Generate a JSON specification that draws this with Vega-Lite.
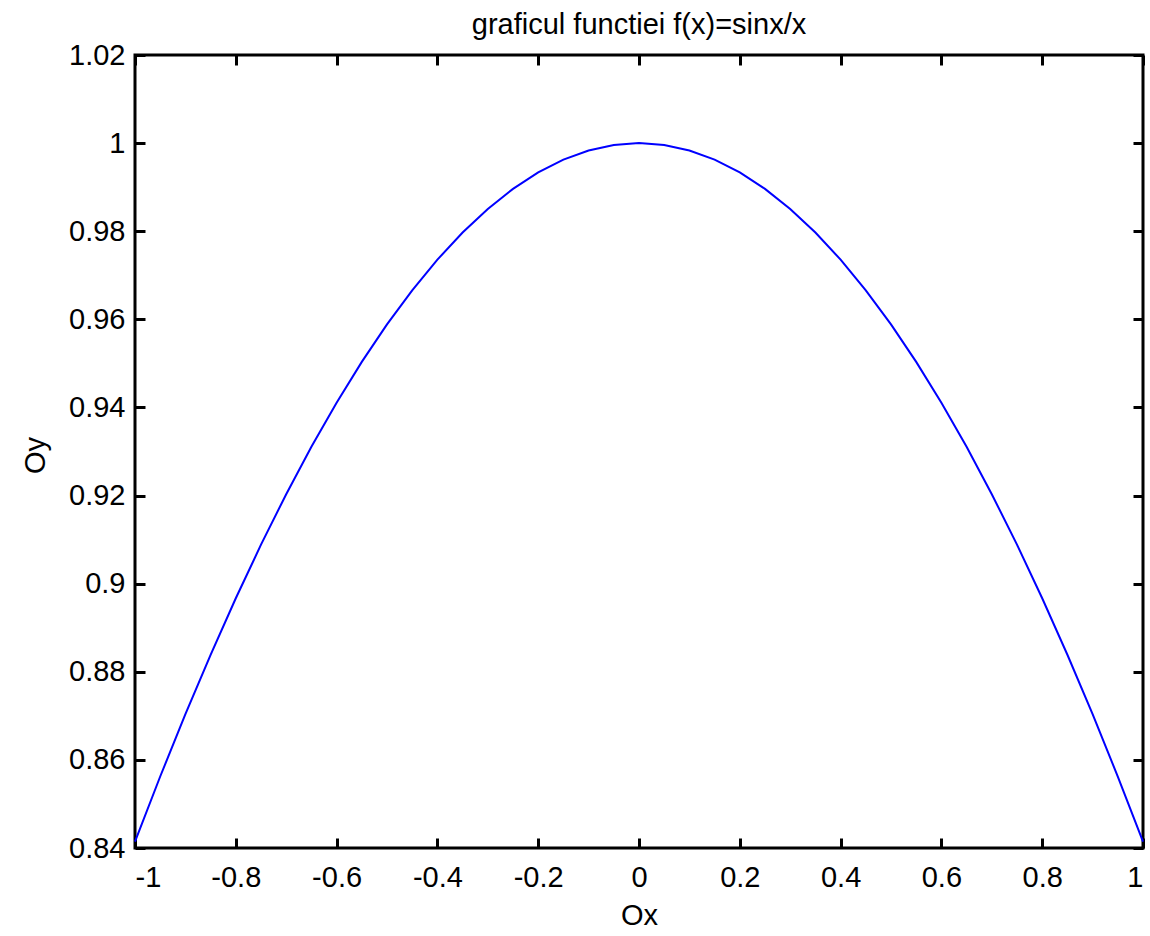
{
  "$schema": "https://vega.github.io/schema/vega-lite/v6.json",
  "autosize": "none",
  "width": 1008,
  "height": 793,
  "padding": {"left": 135, "top": 55, "right": 7, "bottom": 88},
  "background": "white",
  "config": {
    "font": "Liberation Sans",
    "view": {"stroke": "#000", "strokeWidth": 3},
    "axis": {"grid": false, "domain": false, "tickColor": "#000", "tickWidth": 3, "tickSize": -10, "labelColor": "#000", "labelFontSize": 29, "titleFontSize": 29, "titleFontWeight": "normal", "titleColor": "#000", "labelFont": "Liberation Sans", "titleFont": "Liberation Sans"}
  },
  "title": {"text": "graficul functiei f(x)=sinx/x", "fontSize": 29, "fontWeight": "normal", "color": "#000", "font": "Liberation Sans", "anchor": "middle", "offset": 1},
  "data": {"values": [
    {"x": -1.0, "y": 0.841471}, {"x": -0.95, "y": 0.856227}, {"x": -0.9, "y": 0.870363}, {"x": -0.85, "y": 0.883859},
    {"x": -0.8, "y": 0.896695}, {"x": -0.75, "y": 0.908852}, {"x": -0.7, "y": 0.920311}, {"x": -0.65, "y": 0.931056},
    {"x": -0.6, "y": 0.941071}, {"x": -0.55, "y": 0.950341}, {"x": -0.5, "y": 0.958851}, {"x": -0.45, "y": 0.96659},
    {"x": -0.4, "y": 0.973546}, {"x": -0.35, "y": 0.979708}, {"x": -0.3, "y": 0.985067}, {"x": -0.25, "y": 0.989616},
    {"x": -0.2, "y": 0.993347}, {"x": -0.15, "y": 0.996254}, {"x": -0.1, "y": 0.998334}, {"x": -0.05, "y": 0.999583},
    {"x": 0.0, "y": 1.0},
    {"x": 0.05, "y": 0.999583}, {"x": 0.1, "y": 0.998334}, {"x": 0.15, "y": 0.996254}, {"x": 0.2, "y": 0.993347},
    {"x": 0.25, "y": 0.989616}, {"x": 0.3, "y": 0.985067}, {"x": 0.35, "y": 0.979708}, {"x": 0.4, "y": 0.973546},
    {"x": 0.45, "y": 0.96659}, {"x": 0.5, "y": 0.958851}, {"x": 0.55, "y": 0.950341}, {"x": 0.6, "y": 0.941071},
    {"x": 0.65, "y": 0.931056}, {"x": 0.7, "y": 0.920311}, {"x": 0.75, "y": 0.908852}, {"x": 0.8, "y": 0.896695},
    {"x": 0.85, "y": 0.883859}, {"x": 0.9, "y": 0.870363}, {"x": 0.95, "y": 0.856227}, {"x": 1.0, "y": 0.841471}
  ]},
  "layer": [
    {
      "mark": {"type": "line", "color": "#0000ff", "strokeWidth": 2},
      "encoding": {
        "x": {"field": "x", "type": "quantitative", "scale": {"domain": [-1, 1], "nice": false, "zero": false},
          "axis": {"orient": "bottom", "values": [-1, -0.8, -0.6, -0.4, -0.2, 0, 0.2, 0.4, 0.6, 0.8, 1], "labelExpr": "replace(format(datum.value, '.1~f'), '\u2212', '-')", "labelPadding": 25, "title": "Ox", "titleX": 504, "titleY": 67, "titleBaseline": "middle"}},
        "y": {"field": "y", "type": "quantitative", "scale": {"domain": [0.84, 1.02], "nice": false, "zero": false},
          "axis": {"orient": "left", "values": [0.84, 0.86, 0.88, 0.9, 0.92, 0.94, 0.96, 0.98, 1, 1.02], "labelExpr": "format(datum.value, '.2~f')", "labelPadding": 20, "title": "Oy", "titleX": -100, "titleY": 400, "titleBaseline": "middle", "titleAngle": -90}}
      }
    },
    {
      "mark": {"type": "line", "opacity": 0},
      "encoding": {
        "x": {"field": "x", "type": "quantitative", "scale": {"domain": [-1, 1], "nice": false, "zero": false},
          "axis": {"orient": "top", "values": [-1, -0.8, -0.6, -0.4, -0.2, 0, 0.2, 0.4, 0.6, 0.8, 1], "labels": false, "title": null}},
        "y": {"field": "y", "type": "quantitative", "scale": {"domain": [0.84, 1.02], "nice": false, "zero": false},
          "axis": {"orient": "right", "values": [0.84, 0.86, 0.88, 0.9, 0.92, 0.94, 0.96, 0.98, 1, 1.02], "labels": false, "title": null}}
      }
    }
  ],
  "resolve": {"axis": {"x": "independent", "y": "independent"}}
}
